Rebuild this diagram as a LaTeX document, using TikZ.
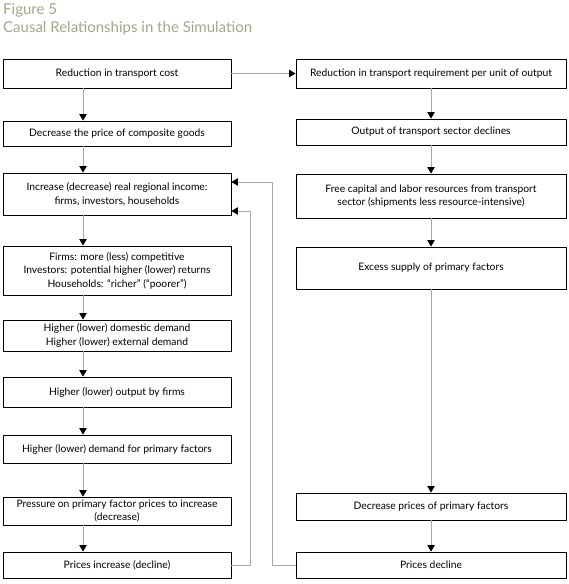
\documentclass[tikz,border=0pt]{standalone}
\usepackage{fontspec}
\setmainfont{Lato}
\usetikzlibrary{arrows.meta,calc}
\definecolor{titlecol}{HTML}{A3A68A}
\definecolor{conncol}{HTML}{A8A8A8}
\begin{document}
\begin{tikzpicture}[x=1pt,y=-1pt,
  box/.style={draw=black,line width=0.9pt,inner sep=0pt,align=center,
    font=\fontsize{10.3}{13.5}\selectfont},
  lbox/.style={box,minimum width=228pt},
  rbox/.style={box,minimum width=270pt},
  conn/.style={draw=conncol,line width=0.8pt,-{Triangle[width=7.5pt,length=6.5pt,color=black]}},
  ttl/.style={anchor=base west,inner sep=0pt,text=titlecol,font=\fontsize{15}{17}\selectfont}]
\useasboundingbox (0,0) rectangle (569,584);
\node[ttl] (t1) at (3,14) {Figure 5};
\node[ttl] (t2) at (3,32) {Causal Relationships in the Simulation};
% left column
\node[lbox,minimum height=29pt] (B1) at (117,73.5) {Reduction in transport cost};
\node[lbox,minimum height=25pt] (B2) at (117,133.5) {Decrease the price of composite goods};
\node[lbox,minimum height=42pt] (B3) at (117,194) {Increase (decrease) real regional income:\\firms, investors, households};
\node[lbox,minimum height=49pt] (B4) at (117,270.5) {Firms: more (less) competitive\\Investors: potential higher (lower) returns\\Households: “richer” (“poorer”)};
\node[lbox,minimum height=31pt] (B5) at (117,335.5) {Higher (lower) domestic demand\\Higher (lower) external demand};
\node[lbox,minimum height=30pt] (B6) at (117,392) {Higher (lower) output by firms};
\node[lbox,minimum height=28pt] (B7) at (117,449) {Higher (lower) demand for primary factors};
\node[lbox,minimum height=28pt] (B8) at (117,511) {Pressure on primary factor prices to increase\\(decrease)};
\node[lbox,minimum height=26pt] (B9) at (117,565) {Prices increase (decline)};
% right column
\node[rbox,minimum height=29pt] (R1) at (431,73.5) {Reduction in transport requirement per unit of output};
\node[rbox,minimum height=26pt] (R2) at (431,132) {Output of transport sector declines};
\node[rbox,minimum height=44pt] (R3) at (431,196) {Free capital and labor resources from transport\\sector (shipments less resource-intensive)};
\node[rbox,minimum height=42pt] (R4) at (431,268) {Excess supply of primary factors};
\node[rbox,minimum height=27pt] (R5) at (431,506.5) {Decrease prices of primary factors};
\node[rbox,minimum height=26pt] (R6) at (431,565) {Prices decline};
% left arrows
\coordinate (ax) at (83,0);
\draw[conn] (B1.south -| ax) -- (B2.north -| ax);
\draw[conn] (B2.south -| ax) -- (B3.north -| ax);
\draw[conn] (B3.south -| ax) -- (B4.north -| ax);
\draw[conn] (B4.south -| ax) -- (B5.north -| ax);
\draw[conn] (B5.south -| ax) -- (B6.north -| ax);
\draw[conn] (B6.south -| ax) -- (B7.north -| ax);
\draw[conn] (B7.south -| ax) -- (B8.north -| ax);
\draw[conn] (B8.south -| ax) -- (B9.north -| ax);
% cross arrow
\draw[conn] (B1.east) -- (R1.west);
% right arrows
\draw[conn] (R1.south) -- (R2.north);
\draw[conn] (R2.south) -- (R3.north);
\draw[conn] (R3.south) -- (R4.north);
\draw[conn] (R4.south) -- (R5.north);
\draw[conn] (R5.south) -- (R6.north);
% feedback loops
\draw[conn] (B9.east) -- ++(19,0) |- ([yshift=-17pt]B3.east);
\draw[conn] (R6.west) -- ++(-23,0) |- ([yshift=12pt]B3.east);
\end{tikzpicture}
\end{document}
